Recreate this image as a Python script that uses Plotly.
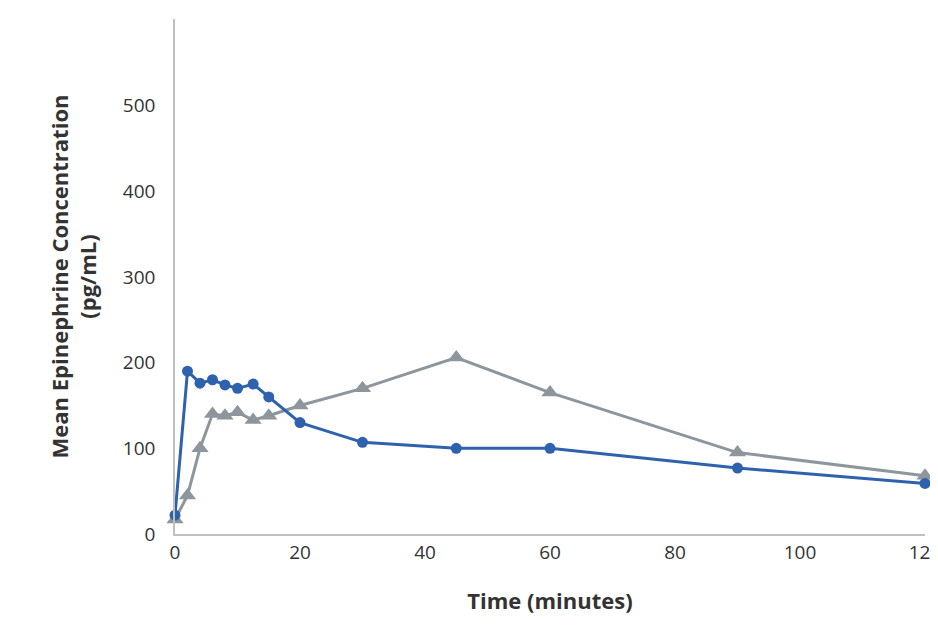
import plotly.graph_objects as go

time_blue = [0, 2, 4, 6, 8, 10, 12.5, 15, 20, 30, 45, 60, 90, 120]
conc_blue = [22, 190, 176, 180, 174, 170, 175, 160, 130, 107, 100, 100, 77, 59]
time_grey = [0, 2, 4, 6, 8, 10, 12.5, 15, 20, 30, 45, 60, 90, 120]
conc_grey = [17, 45, 100, 140, 138, 142, 133, 138, 150, 170, 206, 165, 95, 68]

fig = go.Figure()
fig.add_trace(go.Scatter(x=time_grey, y=conc_grey, mode="lines+markers",
    line=dict(color="#8E969D", width=3),
    marker=dict(symbol="triangle-up", size=15, color="#8E969D"), showlegend=False))
fig.add_trace(go.Scatter(x=time_blue, y=conc_blue, mode="lines+markers",
    line=dict(color="#2F62AC", width=3),
    marker=dict(symbol="circle", size=11, color="#2F62AC"), showlegend=False))

fig.update_layout(
    width=938, height=630, paper_bgcolor="white", plot_bgcolor="white",
    margin=dict(l=167, r=21, t=11, b=104),
    font=dict(family="Open Sans, sans-serif", size=19, color="#333"),
    xaxis=dict(range=[0, 120], tickvals=[0, 20, 40, 60, 80, 100, 120], automargin=False,
               showgrid=False, zeroline=False, showline=True, linecolor="#BFBFBF", linewidth=1.5,
               ticks="", title=dict(text="<b>Time (minutes)</b>", font=dict(size=22, color="#333"), standoff=30)),
    yaxis=dict(range=[0, 601], tickvals=[0, 100, 200, 300, 400, 500, 600], automargin=False,
               showgrid=False, zeroline=False, showline=True, linecolor="#BFBFBF", linewidth=1.5,
               ticks="", ticklabelstandoff=14,
               title=dict(text="<b>Mean Epinephrine Concentration<br>(pg/mL)</b>", font=dict(size=22, color="#333"), standoff=20)),
)
fig.update_traces(cliponaxis=False)
fig.write_html("out.html")
